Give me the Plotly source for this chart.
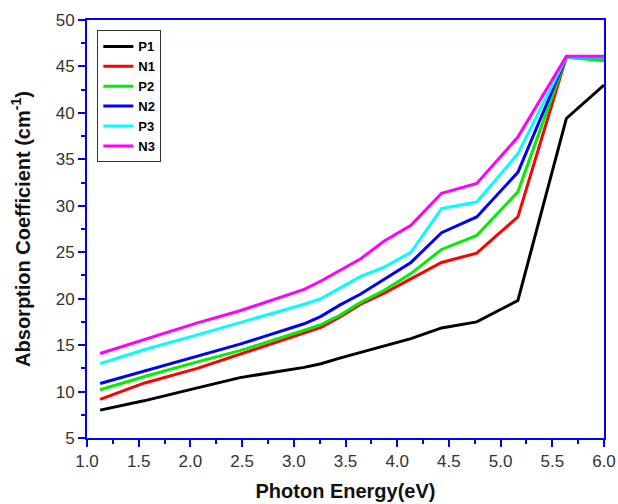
import plotly.graph_objects as go

energy = [1.127, 1.55, 2.067, 2.48, 3.1, 3.263, 3.444, 3.647, 3.875, 4.133, 4.429, 4.769, 5.167, 5.636, 6.0]

P1 = [8.0, 9.0, 10.4, 11.5, 12.6, 13.0, 13.6, 14.2, 14.9, 15.7, 16.85, 17.5, 19.8, 39.4, 43.0]
N1 = [9.15, 10.9, 12.5, 14.0, 16.3, 16.9, 18.0, 19.4, 20.6, 22.1, 23.9, 24.9, 28.8, 46.0, 45.8]
P2 = [10.2, 11.6, 13.2, 14.4, 16.6, 17.2, 18.2, 19.6, 20.9, 22.7, 25.3, 26.8, 31.5, 46.0, 45.6]
N2 = [10.87, 12.2, 13.8, 15.1, 17.3, 18.1, 19.3, 20.5, 22.1, 23.9, 27.1, 28.8, 33.6, 46.0, 46.0]
P3 = [13.0, 14.5, 16.1, 17.4, 19.4, 20.0, 21.1, 22.4, 23.4, 25.0, 29.7, 30.4, 35.6, 46.0, 46.0]
N3 = [14.1, 15.6, 17.4, 18.7, 21.0, 21.9, 23.0, 24.3, 26.2, 27.9, 31.35, 32.4, 37.4, 46.1, 46.1]

names = ["P1", "N1", "P2", "N2", "P3", "N3"]
series = [P1, N1, P2, N2, P3, N3]
colors = ["#000000", "#ff0000", "#00ee00", "#0000ff", "#00ffff", "#ff00ff"]

fig = go.Figure()
for n, s, c in zip(names, series, colors):
    fig.add_trace(go.Scatter(x=energy, y=s, mode="lines", name=n,
                             line=dict(color=c, width=3)))

axis_common = dict(
    showline=True, linecolor="#0000ff", linewidth=2, mirror=True,
    ticks="outside", tickcolor="#0000ff", ticklen=7, tickwidth=2,
    showgrid=False, zeroline=False, automargin=False,
    tickfont=dict(family="Liberation Sans, Arial", size=17, color="#333333"),
)

fig.update_xaxes(range=[1.0, 6.0], dtick=0.5, tick0=1.0, tickformat=".1f",
                 minor=dict(dtick=0.25, ticks="outside", ticklen=4, tickcolor="#0000ff", tickwidth=1.5, showgrid=False),
                 title=dict(text="<b>Photon Energy(eV)</b>",
                            font=dict(family="Liberation Sans, Arial", size=20, color="#111111"),
                            standoff=14),
                 **axis_common)
fig.update_yaxes(range=[5, 50], dtick=5, tick0=5,
                 minor=dict(dtick=2.5, ticks="outside", ticklen=4, tickcolor="#0000ff", tickwidth=1.5, showgrid=False),
                 title=dict(text="<b>Absorption Coefficient (cm<sup>-1</sup>)</b>",
                            font=dict(family="Liberation Sans, Arial", size=20, color="#111111"),
                            standoff=20),
                 **axis_common)

fig.update_layout(
    width=618, height=504,
    margin=dict(l=87, r=14, t=20, b=66),
    paper_bgcolor="white", plot_bgcolor="white",
    showlegend=True,
    legend=dict(x=0.02, y=0.975, xanchor="left", yanchor="top",
                bordercolor="#333333", borderwidth=1, bgcolor="white",
                font=dict(family="Liberation Sans, Arial", size=13, color="#000000", weight="bold"),
                tracegroupgap=0, itemwidth=30),
)

fig.write_html("out.html")
